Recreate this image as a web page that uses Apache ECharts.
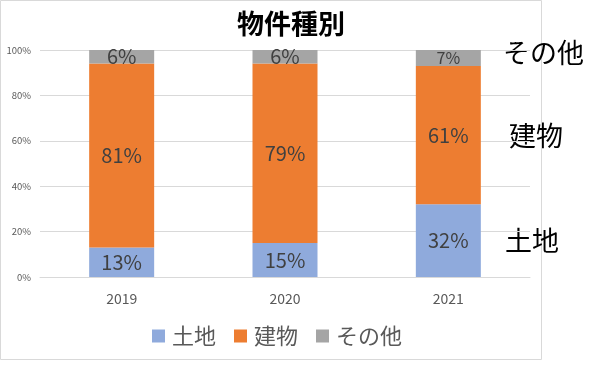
<!DOCTYPE html>
<html>
<head>
<meta charset="utf-8">
<script src="https://cdn.jsdelivr.net/npm/echarts@6/dist/echarts.min.js"></script>
<style>html,body{margin:0;padding:0;background:#fff;}#c{width:596px;height:374px;}</style>
</head>
<body>
<div id="c"></div>
<script>
const categories = ['2019', '2020', '2021'];
const landValues = [13, 15, 32];
const buildingValues = [81, 79, 61];
const otherValues = [6, 6, 7];
const yTicks = [0, 20, 40, 60, 80, 100];
const seriesNames = ['土地', '建物', 'その他'];

const FONT = '"Noto Sans CJK JP", "Noto Sans", sans-serif';
const chart = echarts.init(document.getElementById('c'));
const labelStyle = {
  show: true, position: 'inside', fontSize: 20, color: '#404040',
  fontFamily: FONT, formatter: p => p.value + '%'
};
chart.setOption({
  animation: false,
  title: {
    text: '物件種別', left: 286, top: 5, textAlign: 'center',
    textStyle: { fontSize: 27, fontWeight: 'bold', color: '#000', fontFamily: FONT }
  },
  legend: {
    data: seriesNames, left: 147, top: 320,
    itemWidth: 13, itemHeight: 13, itemGap: 18,
    icon: 'rect',
    textStyle: { fontSize: 22, color: '#595959', fontFamily: FONT, padding: [0, 0, 0, 2] }
  },
  grid: { left: 40, right: 66, top: 50, bottom: 97 },
  xAxis: {
    type: 'category', data: categories,
    axisLine: { lineStyle: { color: '#d9d9d9' } },
    axisTick: { show: false },
    axisLabel: { fontSize: 14, color: '#595959', margin: 15, fontFamily: FONT }
  },
  yAxis: {
    type: 'value', min: yTicks[0], max: yTicks[yTicks.length - 1], interval: 20,
    axisLabel: { fontSize: 9.5, color: '#595959', formatter: '{value}%', margin: 9, fontFamily: FONT },
    splitLine: { lineStyle: { color: '#d9d9d9' } },
    axisLine: { show: false }, axisTick: { show: false }
  },
  series: [
    { name: seriesNames[0], type: 'bar', stack: 's', data: landValues, barWidth: 65,
      itemStyle: { color: '#8FAADC' }, label: labelStyle },
    { name: seriesNames[1], type: 'bar', stack: 's', data: buildingValues, barWidth: 65,
      itemStyle: { color: '#ED7D31' }, label: labelStyle },
    { name: seriesNames[2], type: 'bar', stack: 's', barWidth: 65,
      data: otherValues.map((v, i) => i === 2 ? { value: v, label: { fontSize: 16 } } : v),
      itemStyle: { color: '#A5A5A5' }, label: labelStyle }
  ],
  graphic: [
    { type: 'rect', shape: { x: 0.5, y: 0.5, width: 541, height: 359 },
      style: { fill: 'none', stroke: '#d9d9d9', lineWidth: 1 }, silent: true },
    { type: 'text', left: 503, top: 39, style: { text: 'その他', fontSize: 27, fill: '#000', fontFamily: FONT } },
    { type: 'text', left: 509, top: 122, style: { text: '建物', fontSize: 27, fill: '#000', fontFamily: FONT } },
    { type: 'text', left: 505, top: 227, style: { text: '土地', fontSize: 27, fill: '#000', fontFamily: FONT } }
  ]
});
</script>
</body>
</html>
